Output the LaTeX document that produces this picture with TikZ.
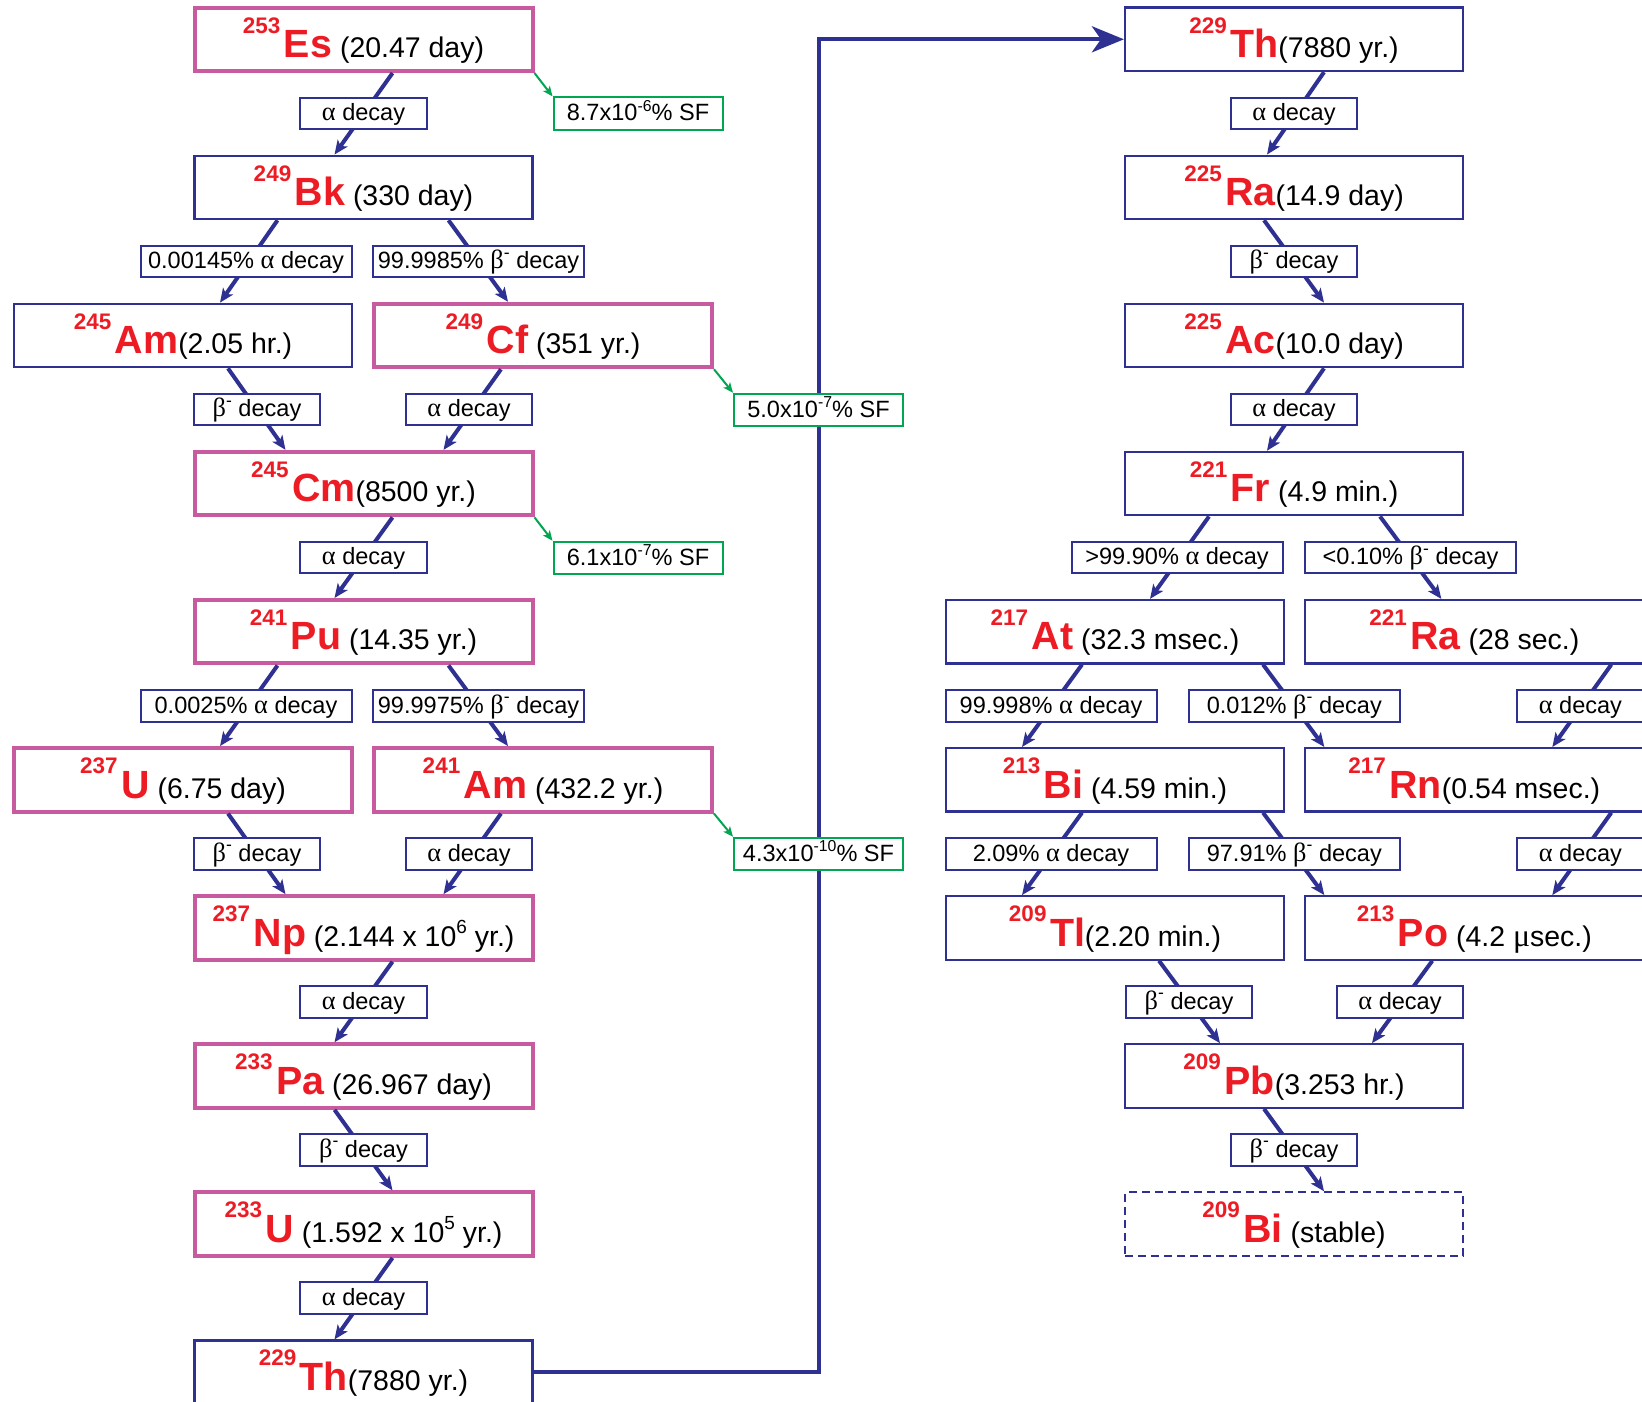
\documentclass[tikz,border=0pt]{standalone}
\usepackage{fontspec}
\setmainfont{Liberation Sans}
\newfontfamily\grk{Liberation Serif}[Scale=1.12]
\usetikzlibrary{arrows.meta,calc}
\definecolor{navy}{RGB}{46,49,146}
\definecolor{pinkb}{RGB}{200,90,160}
\definecolor{redt}{RGB}{237,28,36}
\definecolor{greenb}{RGB}{0,166,81}
\newcommand{\Nuc}[3]{{\color{redt}\bfseries\fontsize{6.4}{7}\selectfont\raisebox{2.45mm}{#1}}\hspace{0.35mm}{\color{redt}\bfseries\fontsize{11.2}{12}\selectfont #2}{\fontsize{8.1}{9}\selectfont #3}}
\newcommand{\Hs}[1]{\raisebox{1.25mm}{\fontsize{5.4}{6}\selectfont #1}}
\newcommand{\Ls}[1]{\raisebox{0.95mm}{\fontsize{4.5}{5}\selectfont #1}}
\newcommand{\Al}{{\grk α}}
\newcommand{\Bm}{{\grk β}\raisebox{1.05mm}{\fontsize{5}{5}\selectfont -}}
\tikzset{
  nucb/.style={draw=navy, line width=0.22mm, fill=white, minimum width=33.8mm, minimum height=6.35mm, inner sep=0pt, text height=3.85mm, text depth=0.2mm},
  nucp/.style={nucb, draw=pinkb, line width=0.4mm},
  lblS/.style={draw=navy, line width=0.2mm, fill=white, minimum width=12.65mm, minimum height=3.15mm, inner sep=0pt, text height=1.7mm, text depth=0.25mm, font=\fontsize{6.7}{7}\selectfont},
  lblL/.style={lblS, minimum width=21.1mm},
  sfbox/.style={lblS, draw=greenb, minimum width=16.9mm, minimum height=3.25mm},
  arr/.style={draw=navy, line width=0.4mm, -{Stealth[length=1.4mm,width=1.2mm,inset=0.35mm]}},
  garr/.style={draw=greenb, line width=0.2mm, -{Stealth[length=1mm,width=0.85mm,inset=0.25mm]}},
  bigarr/.style={draw=navy, line width=0.4mm, -{Stealth[length=3.2mm,width=2.6mm,inset=0.9mm]}}
}
\begin{document}
\begin{tikzpicture}[x=0.1mm,y=-0.1mm]
\useasboundingbox (0,0) rectangle (1642,1401);
\clip (0,0) rectangle (1642,1401);
\fill[white] (0,0) rectangle (1642,1401);
% left column
\node[nucp] (Es) at (363.5,39.3) {\Nuc{253}{Es}{~(20.47 day)}};
\node[nucb] (Bk) at (363.5,187.4) {\Nuc{249}{Bk}{~(330 day)}};
\node[nucb] (AmA) at (183,335.5) {\Nuc{245}{Am}{(2.05 hr.)}};
\node[nucp] (Cf) at (543,335.5) {\Nuc{249}{Cf}{~(351 yr.)}};
\node[nucp] (Cm) at (363.5,483.6) {\Nuc{245}{Cm}{(8500 yr.)}};
\node[nucp] (Pu) at (363.5,631.7) {\Nuc{241}{Pu}{~(14.35 yr.)}};
\node[nucp] (UA) at (183,779.8) {\Nuc{237}{U}{~(6.75 day)}};
\node[nucp] (AmB) at (543,779.8) {\Nuc{241}{Am}{~(432.2 yr.)}};
\node[nucp] (Np) at (363.5,927.9) {\Nuc{237}{Np}{~(2.144 x 10\Hs{6} yr.)}};
\node[nucp] (Pa) at (363.5,1076) {\Nuc{233}{Pa}{~(26.967 day)}};
\node[nucp] (UB) at (363.5,1224.1) {\Nuc{233}{U}{~(1.592 x 10\Hs{5} yr.)}};
\node[nucb] (ThA) at (363.5,1372.2) {\Nuc{229}{Th}{(7880 yr.)}};
% right column
\node[nucb] (ThB) at (1294,39.3) {\Nuc{229}{Th}{(7880 yr.)}};
\node[nucb] (RaA) at (1294,187.4) {\Nuc{225}{Ra}{(14.9 day)}};
\node[nucb] (Ac) at (1294,335.5) {\Nuc{225}{Ac}{(10.0 day)}};
\node[nucb] (Fr) at (1294,483.6) {\Nuc{221}{Fr}{~(4.9 min.)}};
\node[nucb] (At) at (1115,631.7) {\Nuc{217}{At}{~(32.3 msec.)}};
\node[nucb] (RaB) at (1474.3,631.7) {\Nuc{221}{Ra}{~(28 sec.)}};
\node[nucb] (BiA) at (1115,779.8) {\Nuc{213}{Bi}{~(4.59 min.)}};
\node[nucb] (Rn) at (1474.3,779.8) {\Nuc{217}{Rn}{(0.54 msec.)}};
\node[nucb] (Tl) at (1115,927.9) {\Nuc{209}{Tl}{(2.20 min.)}};
\node[nucb] (Po) at (1474.3,927.9) {\Nuc{213}{Po}{~(4.2 {\grk μ}sec.)}};
\node[nucb] (Pb) at (1294,1076) {\Nuc{209}{Pb}{(3.253 hr.)}};
\node[nucb, dash pattern=on 0.8mm off 0.5mm] (BiB) at (1294,1224.1) {\Nuc{209}{Bi}{~(stable)}};
% long connector
\coordinate (turnT) at (818.5,39.3);
\draw[bigarr] (ThA.east) -| (turnT) -- (ThB.west);
% left arrows
\draw[arr] ($(Es.south)+(29,0)$) -- ($(Bk.north)+(-29,0)$);
\draw[arr] ($(Bk.south)+(-86,0)$) -- ($(AmA.north)+(37,0)$);
\draw[arr] ($(Bk.south)+(85,0)$) -- ($(Cf.north)+(-35,0)$);
\draw[arr] ($(AmA.south)+(45,0)$) -- ($(Cm.north)+(-78,0)$);
\draw[arr] ($(Cf.south)+(-42,0)$) -- ($(Cm.north)+(80,0)$);
\draw[arr] ($(Cm.south)+(29,0)$) -- ($(Pu.north)+(-29,0)$);
\draw[arr] ($(Pu.south)+(-86,0)$) -- ($(UA.north)+(37,0)$);
\draw[arr] ($(Pu.south)+(85,0)$) -- ($(AmB.north)+(-35,0)$);
\draw[arr] ($(UA.south)+(45,0)$) -- ($(Np.north)+(-78,0)$);
\draw[arr] ($(AmB.south)+(-42,0)$) -- ($(Np.north)+(80,0)$);
\draw[arr] ($(Np.south)+(29,0)$) -- ($(Pa.north)+(-29,0)$);
\draw[arr] ($(Pa.south)+(-29,0)$) -- ($(UB.north)+(29,0)$);
\draw[arr] ($(UB.south)+(29,0)$) -- ($(ThA.north)+(-29,0)$);
% right arrows
\draw[arr] ($(ThB.south)+(30,0)$) -- ($(RaA.north)+(-27,0)$);
\draw[arr] ($(RaA.south)+(-30,0)$) -- ($(Ac.north)+(30,0)$);
\draw[arr] ($(Ac.south)+(30,0)$) -- ($(Fr.north)+(-27,0)$);
\draw[arr] ($(Fr.south)+(-85,0)$) -- ($(At.north)+(35,0)$);
\draw[arr] ($(Fr.south)+(86,0)$) -- ($(RaB.north)+(-33,0)$);
\draw[arr] ($(At.south)+(-33,0)$) -- ($(BiA.north)+(-93,0)$);
\draw[arr] ($(At.south)+(148,0)$) -- ($(Rn.north)+(-150,0)$);
\draw[arr] ($(RaB.south)+(137,0)$) -- ($(Rn.north)+(78,0)$);
\draw[arr] ($(BiA.south)+(-33,0)$) -- ($(Tl.north)+(-93,0)$);
\draw[arr] ($(BiA.south)+(148,0)$) -- ($(Po.north)+(-150,0)$);
\draw[arr] ($(Rn.south)+(137,0)$) -- ($(Po.north)+(78,0)$);
\draw[arr] ($(Tl.south)+(44,0)$) -- ($(Pb.north)+(-74,0)$);
\draw[arr] ($(Po.south)+(-42,0)$) -- ($(Pb.north)+(78,0)$);
\draw[arr] ($(Pb.south)+(-30,0)$) -- ($(BiB.north)+(30,0)$);
% SF boxes
\node[sfbox] (sf1) at (638,113.6) {8.7x10\Ls{-6}\% SF};
\node[sfbox] (sf2) at (818.5,410) {5.0x10\Ls{-7}\% SF};
\node[sfbox] (sf3) at (638,558) {6.1x10\Ls{-7}\% SF};
\node[sfbox] (sf4) at (818.5,854) {4.3x10\Ls{-10}\% SF};
\draw[garr] (Es.south east) -- (sf1.north west);
\draw[garr] (Cf.south east) -- (sf2.north west);
\draw[garr] (Cm.south east) -- (sf3.north west);
\draw[garr] (AmB.south east) -- (sf4.north west);
% left labels
\node[lblS] (l1) at (363.5,113.4) {\Al{} decay};
\node[lblL] (l2) at (246,261.5) {0.00145\% \Al{} decay};
\node[lblL] (l3) at (478.5,261.5) {99.9985\% \Bm{} decay};
\node[lblS] (l4) at (257,409.6) {\Bm{} decay};
\node[lblS] (l5) at (469,409.6) {\Al{} decay};
\node[lblS] (l6) at (363.5,557.7) {\Al{} decay};
\node[lblL] (l7) at (246,705.8) {0.0025\% \Al{} decay};
\node[lblL] (l8) at (478.5,705.8) {99.9975\% \Bm{} decay};
\node[lblS] (l9) at (257,853.9) {\Bm{} decay};
\node[lblS] (l10) at (469,853.9) {\Al{} decay};
\node[lblS] (l11) at (363.5,1002) {\Al{} decay};
\node[lblS] (l12) at (363.5,1150) {\Bm{} decay};
\node[lblS] (l13) at (363.5,1298.2) {\Al{} decay};
% right labels
\node[lblS] (r1) at (1294,113.4) {\Al{} decay};
\node[lblS] (r2) at (1294,261.5) {\Bm{} decay};
\node[lblS] (r3) at (1294,409.6) {\Al{} decay};
\node[lblL] (r4) at (1177,557.7) {>99.90\% \Al{} decay};
\node[lblL] (r5) at (1410.5,557.7) {<0.10\% \Bm{} decay};
\node[lblL] (r6) at (1051,705.8) {99.998\% \Al{} decay};
\node[lblL] (r7) at (1294.3,705.8) {0.012\% \Bm{} decay};
\node[lblS] (r8) at (1580.4,705.8) {\Al{} decay};
\node[lblL] (r9) at (1051,853.9) {2.09\% \Al{} decay};
\node[lblL] (r10) at (1294.3,853.9) {97.91\% \Bm{} decay};
\node[lblS] (r11) at (1580.4,853.9) {\Al{} decay};
\node[lblS] (r12) at (1189,1002) {\Bm{} decay};
\node[lblS] (r13) at (1400,1002) {\Al{} decay};
\node[lblS] (r14) at (1294,1150) {\Bm{} decay};
\end{tikzpicture}
\end{document}
